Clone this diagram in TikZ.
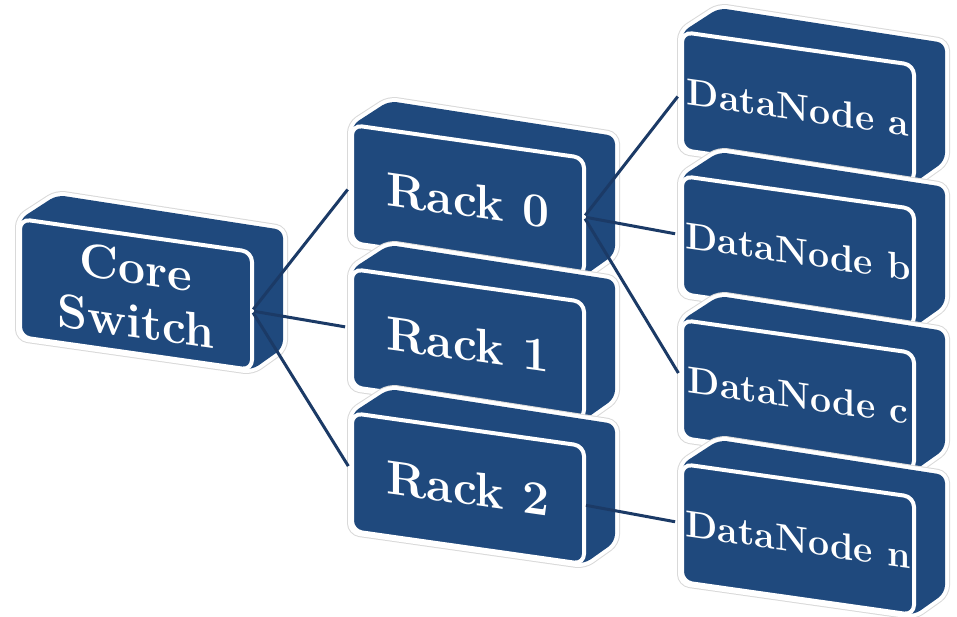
\documentclass[tikz,border=0pt]{standalone}
\usetikzlibrary{calc}
\definecolor{boxblue}{RGB}{31,73,125}
\definecolor{wireblue}{RGB}{27,58,102}
\tikzset{
  silhouette/.style={fill=boxblue, rounded corners=8pt,
    preaction={draw=gray!30, line width=10pt},
    preaction={draw=white, line width=8pt}},
  face/.style={draw=white, line width=4pt, fill=boxblue, rounded corners=10pt,
    minimum width=232pt, minimum height=118pt, inner sep=0pt, outer sep=0pt,
    yslant=-0.142, transform shape, text=white, align=center,
    font=\bfseries\fontsize{48}{54}\selectfont},
  dnface/.style={face, font=\bfseries\fontsize{37.5}{40}\selectfont},
  wire/.style={draw=wireblue, line width=3pt, shorten <=2pt, shorten >=7pt}
}
% top and side faces of a box whose front face is centred at #1
\newcommand\boxbody[1]{%
  \path[silhouette] (#1) ++(-116,42.5) -- ++(0,-118) -- ++(37,-24)
    -- ++(226,35) -- ++(0,118) -- ++(-31,22) -- cycle;}
\begin{document}
\begin{tikzpicture}[x=1pt,y=-1pt]
  \fill[white] (0,0) rectangle (957,617);
  \useasboundingbox (0,0) rectangle (957,617);

  % core
  \boxbody{136,294.5}
  \node[face] (core) at (136,294.5) {Core\\Switch};

  % racks
  \boxbody{468,200.5}
  \node[face] (rack0) at (468,200.5) {Rack 0};
  \boxbody{468,344.5}
  \node[face] (rack1) at (468,344.5) {Rack 1};
  \boxbody{468,488.5}
  \node[face] (rack2) at (468,488.5) {Rack 2};

  % data nodes
  \boxbody{798,107.5}
  \node[dnface] (dna) at (798,107.5) {DataNode a};
  \boxbody{798,251.5}
  \node[dnface] (dnb) at (798,251.5) {DataNode b};
  \boxbody{798,395.5}
  \node[dnface] (dnc) at (798,395.5) {DataNode c};
  \boxbody{798,539.5}
  \node[dnface] (dnn) at (798,539.5) {DataNode n};

  % links
  \draw[wire] (core.east) -- (rack0.west);
  \draw[wire] (core.east) -- (rack1.west);
  \draw[wire] (core.east) -- (rack2.west);
  \draw[wire] (rack0.east) -- (dna.west);
  \draw[wire] (rack0.east) -- (dnb.west);
  \draw[wire] (rack0.east) -- (dnc.west);
  \draw[wire] (rack2.east) -- (dnn.west);
\end{tikzpicture}
\end{document}
